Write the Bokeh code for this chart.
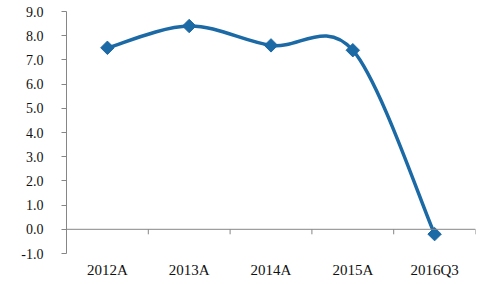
import numpy as np
from bokeh.plotting import figure
from bokeh.models import FixedTicker, Span
from bokeh.embed import file_html
from bokeh.resources import INLINE

categories = ["2012A", "2013A", "2014A", "2015A", "2016Q3"]
values = [7.5, 8.4, 7.6, 7.4, -0.2]
y_ticks = [-1.0, 0.0, 1.0, 2.0, 3.0, 4.0, 5.0, 6.0, 7.0, 8.0, 9.0]

LINE = "#1B69A5"
AXIS = "#868686"
FONT = "Liberation Serif"

n = len(categories)
xs = np.arange(n) + 0.5
ys = np.array(values, dtype=float)

p = figure(width=484, height=284, output_backend="svg", toolbar_location=None,
           x_range=(0, n), y_range=(y_ticks[0], y_ticks[-1]),
           min_border_left=66, min_border_right=9, min_border_top=11, min_border_bottom=31)
p.outline_line_color = None
p.xgrid.visible = False
p.ygrid.visible = False
p.background_fill_color = "white"
p.border_fill_color = "white"

# y axis
p.yaxis.ticker = FixedTicker(ticks=y_ticks)
p.yaxis.major_label_overrides = {t: f"{t:.1f}" for t in y_ticks}
p.yaxis.axis_line_color = AXIS
p.yaxis.major_tick_line_color = AXIS
p.yaxis.major_tick_out = 5
p.yaxis.major_tick_in = 0
p.yaxis.minor_tick_line_color = None
p.yaxis.major_label_standoff = 18
p.yaxis.major_label_text_font = FONT
p.yaxis.major_label_text_font_size = "14px"
p.yaxis.major_label_text_color = "#111111"

# x axis: labels only (category centers)
p.xaxis.ticker = FixedTicker(ticks=list(xs))
p.xaxis.major_label_overrides = {float(x): c for x, c in zip(xs, categories)}
p.xaxis.axis_line_color = None
p.xaxis.major_tick_line_color = None
p.xaxis.minor_tick_line_color = None
p.xaxis.major_tick_out = 0
p.xaxis.major_tick_in = 0
p.xaxis.major_label_standoff = 8
p.xaxis.major_label_text_font = FONT
p.xaxis.major_label_text_font_size = "15px"
p.xaxis.major_label_text_color = "#111111"

# zero line with category boundary ticks
p.add_layout(Span(location=0, dimension="width", line_color=AXIS, line_width=1))
bounds = np.arange(1, n + 1)
tick_len = (y_ticks[-1] - y_ticks[0]) / 242 * 5
p.segment(x0=bounds, y0=np.zeros(n), x1=bounds, y1=np.full(n, -tick_len),
          line_color=AXIS, line_width=1)

# smoothed line (Catmull-Rom -> cubic Bezier)
pts = np.column_stack([xs, ys])
x0, y0, x1, y1, cx0, cy0, cx1, cy1 = ([] for _ in range(8))
for i in range(n - 1):
    p0 = pts[i - 1] if i > 0 else pts[i]
    p1 = pts[i]
    p2 = pts[i + 1]
    p3 = pts[i + 2] if i + 2 < n else pts[i + 1]
    c1 = p1 + (p2 - p0) / 6
    c2 = p2 - (p3 - p1) / 6
    x0.append(p1[0]); y0.append(p1[1]); x1.append(p2[0]); y1.append(p2[1])
    cx0.append(c1[0]); cy0.append(c1[1]); cx1.append(c2[0]); cy1.append(c2[1])
p.bezier(x0=x0, y0=y0, x1=x1, y1=y1, cx0=cx0, cy0=cy0, cx1=cx1, cy1=cy1,
         line_color=LINE, line_width=3.5)

p.scatter(x=xs, y=ys, marker="square", size=9.5, angle=np.pi / 4,
          fill_color=LINE, line_color=LINE)

open("out.html", "w").write(file_html(p, INLINE))
